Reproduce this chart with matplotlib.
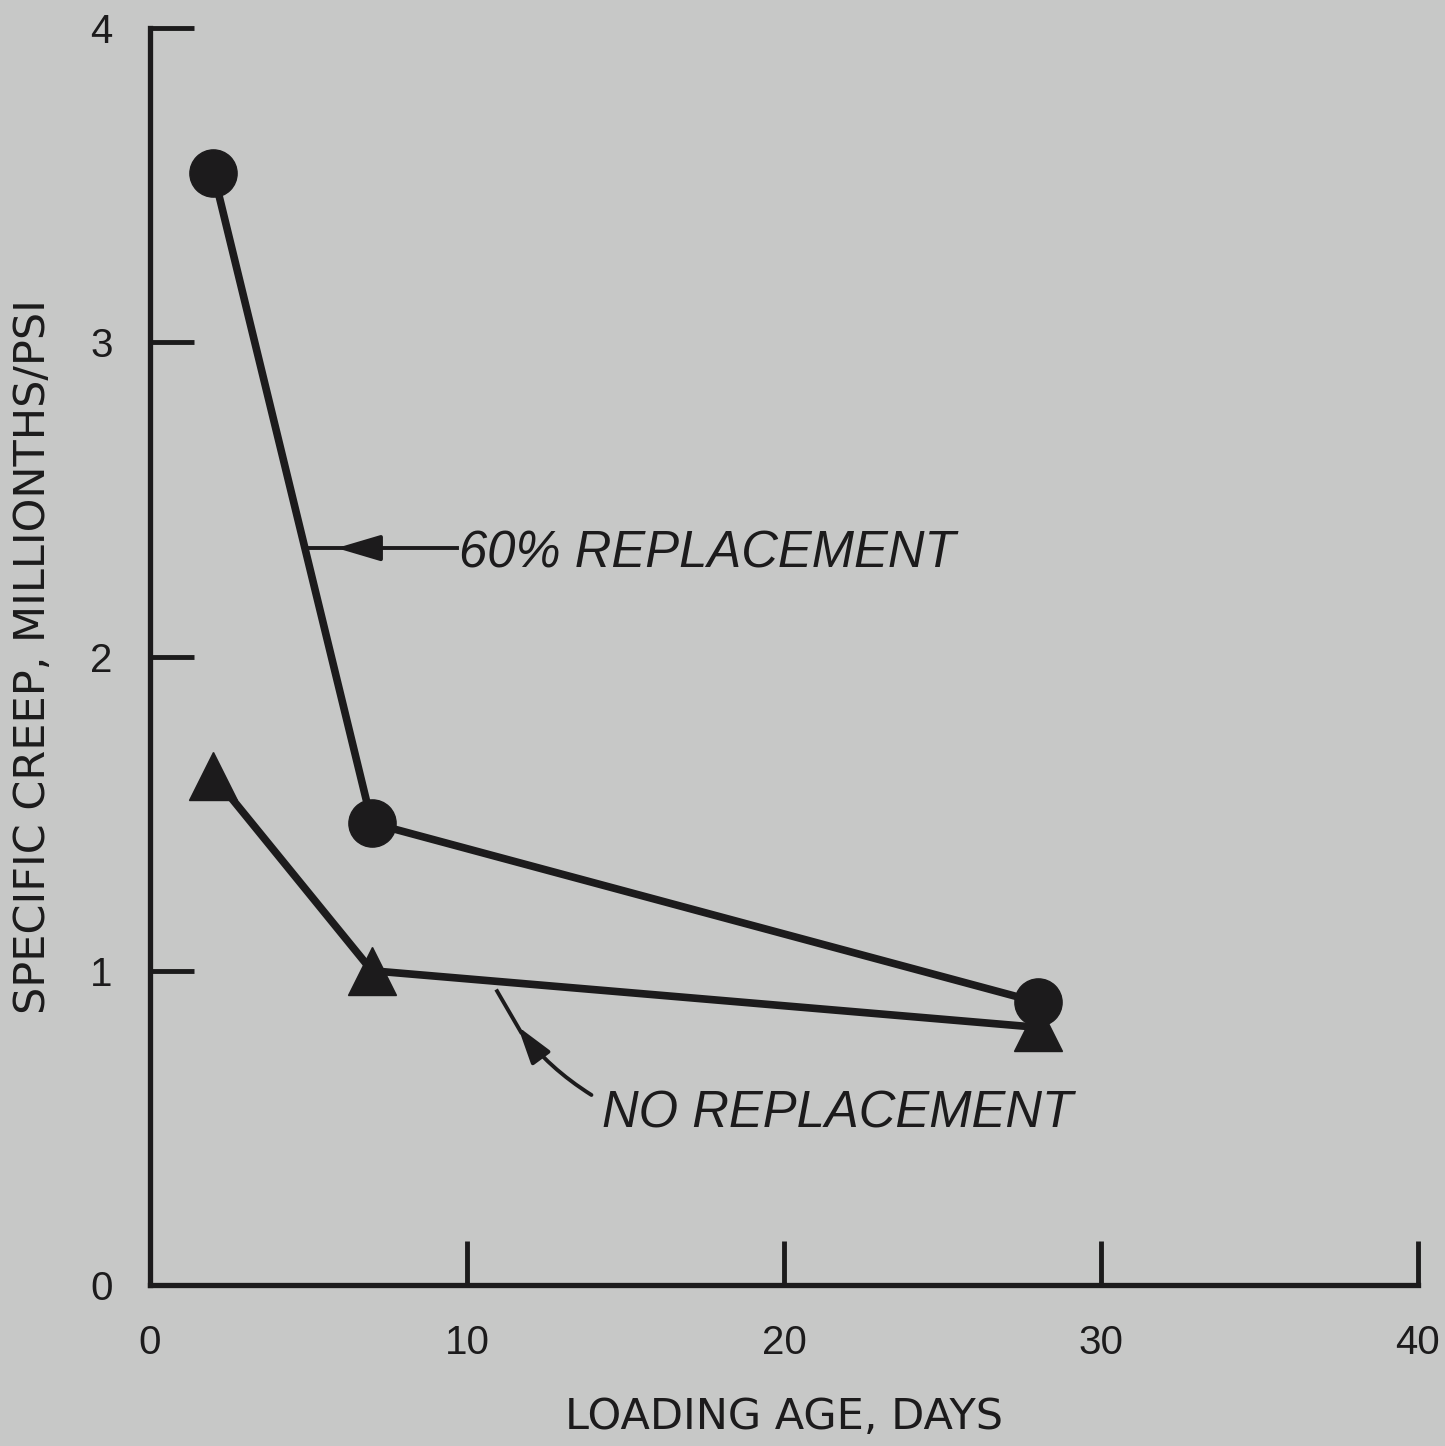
import matplotlib
matplotlib.use('Agg')
import matplotlib.pyplot as plt

matplotlib.rcParams['font.family'] = ['Liberation Sans', 'DejaVu Sans']

# loading age, days
days = [2, 7, 28]
creep_60 = [3.54, 1.47, 0.90]   # 60% replacement
creep_no = [1.62, 1.00, 0.82]   # no replacement

x_ticks = [0, 10, 20, 30, 40]
y_ticks = [0, 1, 2, 3, 4]

bg = '#c7c8c7'
ink = '#1c1b1c'

fig = plt.figure(figsize=(14.45, 14.46), dpi=100, facecolor=bg)
ax = fig.add_axes([150 / 1445, 161 / 1446, 1268 / 1445, 1257 / 1446])
ax.set_facecolor(bg)

ax.plot(days, creep_60, color=ink, lw=5.5, marker='o', markersize=34,
        solid_joinstyle='round', zorder=3)
ax.plot(days, creep_no, color=ink, lw=5.5, marker='^', markersize=35,
        solid_joinstyle='round', zorder=3)

ax.set_xlim(0, 40)
ax.set_ylim(0, 4)
ax.set_xticks(x_ticks)
ax.set_yticks(y_ticks)

for s in ['top', 'right']:
    ax.spines[s].set_visible(False)
for s in ['left', 'bottom']:
    ax.spines[s].set_linewidth(3.8)
    ax.spines[s].set_color(ink)

ax.tick_params(axis='both', direction='in', length=32, width=3.5, color=ink,
               labelsize=29, labelcolor=ink)
ax.tick_params(axis='y', pad=27)
ax.tick_params(axis='x', pad=28)
# the 0 tick on each axis is just the spine
ax.xaxis.get_major_ticks()[0].tick1line.set_visible(False)
ax.yaxis.get_major_ticks()[0].tick1line.set_visible(False)

ax.set_xlabel('LOADING AGE, DAYS', fontsize=31, color=ink,
              family=['DejaVu Sans'])
ax.set_ylabel('SPECIFIC CREEP, MILLIONTHS/PSI', fontsize=31, color=ink,
              family=['DejaVu Sans'])
ax.yaxis.set_label_coords(-0.076, 0.5)
ax.xaxis.set_label_coords(0.5, -0.088)

# 60% replacement label with arrow
ax.text(9.75, 2.325, '60% REPLACEMENT', fontsize=36.5, style='italic', color=ink,
        va='center', ha='left')
ax.plot([5.0, 9.7], [2.345, 2.345], color=ink, lw=2.8)
ax.annotate('', xy=(5.8, 2.345), xytext=(7.2, 2.345),
            arrowprops=dict(arrowstyle='-|>,head_length=2.7,head_width=0.8',
                            color=ink, lw=2.8))

# no replacement label with curved arrow
ax.text(14.25, 0.545, 'NO REPLACEMENT', fontsize=36.5, style='italic', color=ink,
        va='center', ha='left')
ax.annotate('', xy=(11.55, 0.83), xytext=(14.0, 0.6),
            arrowprops=dict(arrowstyle='-|>,head_length=2.3,head_width=0.7',
                            color=ink, lw=2.8,
                            connectionstyle='arc3,rad=-0.1'))
ax.plot([10.95, 11.7], [0.935, 0.805], color=ink, lw=2.8)

fig.savefig('out.png', dpi=100, facecolor=bg)
